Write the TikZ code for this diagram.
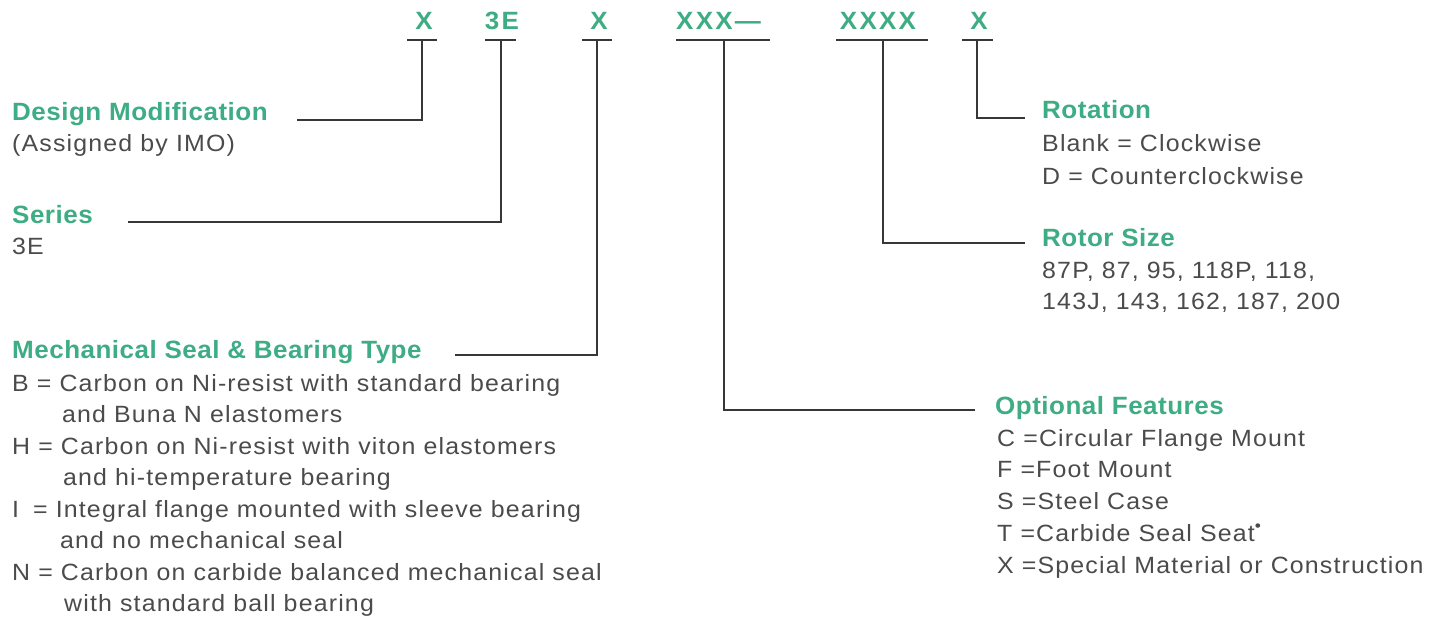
\documentclass[tikz,border=0pt]{standalone}
\usepackage{fontspec}
\setmainfont{Liberation Sans}
\newfontfamily\bodyfont{Liberation Sans}[FakeStretch=1.06,LetterSpace=5]
\newfontfamily\titlefont{Liberation Sans}[FakeStretch=1.04,LetterSpace=2]
\newfontfamily\codefont{Liberation Sans}[FakeStretch=1.04,LetterSpace=9]
\definecolor{imogreen}{RGB}{62,172,132}
\definecolor{txtgray}{RGB}{75,75,75}
\definecolor{linegray}{RGB}{55,55,55}
\begin{document}
\begin{tikzpicture}[x=1pt,y=-1pt,
  code/.style={font=\codefont\fontsize{25}{29}\selectfont\bfseries, text=imogreen, inner sep=0pt, anchor=base},
  title/.style={font=\titlefont\fontsize{25}{29}\selectfont\bfseries, text=imogreen, inner sep=0pt, anchor=base west},
  body/.style={font=\bodyfont\fontsize{23.5}{27}\selectfont, text=txtgray, inner sep=0pt, anchor=base west},
  bar/.style={draw=linegray, line width=1.6pt},
  conn/.style={draw=linegray, line width=1.6pt}]
\useasboundingbox (0,0) rectangle (1445,621);

% code letters
\node[code] (c1) at (424,29) {X};
\node[code] (c2) at (502,29) {3E};
\node[code] (c3) at (599,29) {X};
\node[code, anchor=base west] (c4) at (676,29) {XXX—};
\node[code] (c5) at (878,29) {XXXX};
\node[code] (c6) at (979,29) {X};

% bars under the codes
\draw[bar] (407,40) -- (437,40);
\draw[bar] (485,40) -- (516,40);
\draw[bar] (582,40) -- (612,40);
\draw[bar] (676,40) -- (770,40);
\draw[bar] (836,40) -- (928,40);
\draw[bar] (962,40) -- (993,40);
\coordinate (t1) at (422,40);
\coordinate (t2) at (501,40);
\coordinate (t3) at (597,40);
\coordinate (t4) at (724,40);
\coordinate (t5) at (883,40);
\coordinate (t6) at (977,40);

% left labels
\node[title] (dm) at (12,120) {Design Modification};
\node[body] (dm1) at (12,151) {(Assigned by IMO)};
\coordinate (e1) at (297,120);

\node[title] (se) at (12,223) {Series};
\node[body] (se1) at (12,254) {3E};
\coordinate (e2) at (128,222);

\node[title] (ms) at (12,358) {Mechanical Seal \& Bearing Type};
\coordinate (e3) at (455,355);
\node[body] (ms1) at (12,391) {B = Carbon on Ni-resist with standard bearing};
\node[body] (ms2) at (62,422) {and Buna N elastomers};
\node[body] (ms3) at (12,454) {H = Carbon on Ni-resist with viton elastomers};
\node[body] (ms4) at (63,485) {and hi-temperature bearing};
\node[body] (ms5) at (12,517) {I\hspace{14pt}= Integral flange mounted with sleeve bearing};
\node[body] (ms6) at (60,548) {and no mechanical seal};
\node[body] (ms7) at (12,580) {N = Carbon on carbide balanced mechanical seal};
\node[body] (ms8) at (64,611) {with standard ball bearing};

% right labels
\node[title] (ro) at (1042,118) {Rotation};
\node[body] (ro1) at (1042,151) {Blank = Clockwise};
\node[body] (ro2) at (1042,184) {D = Counterclockwise};
\coordinate (e6) at (1025,118);

\node[title] (rs) at (1042,246) {Rotor Size};
\node[body] (rs1) at (1042,278) {87P, 87, 95, 118P, 118,};
\node[body] (rs2) at (1042,309) {143J, 143, 162, 187, 200};
\coordinate (e5) at (1025,243);

\node[title] (of) at (995,414) {Optional Features};
\coordinate (e4) at (975,410);
\node[body] (of1) at (997,446) {C =Circular Flange Mount};
\node[body] (of2) at (997,477) {F =Foot Mount};
\node[body] (of3) at (997,509) {S =Steel Case};
\node[body] (of4) at (997,541) {T =Carbide Seal Seat\textsuperscript{\textbullet}};
\node[body] (of5) at (997,573) {X =Special Material or Construction};

% connectors
\draw[conn] (t1) |- (e1);
\draw[conn] (t2) |- (e2);
\draw[conn] (t3) |- (e3);
\draw[conn] (t4) |- (e4);
\draw[conn] (t5) |- (e5);
\draw[conn] (t6) |- (e6);
\end{tikzpicture}
\end{document}
